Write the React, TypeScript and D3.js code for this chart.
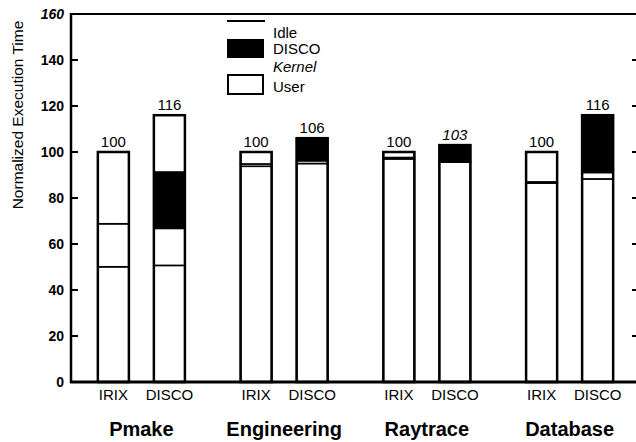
import React from 'react';
import * as d3 from 'd3';

// benchmark groups and the two systems run in each
const groups = ['Pmake', 'Engineering', 'Raytrace', 'Database'];
const systems = ['IRIX', 'DISCO'];

// per bar, in order Pmake IRIX, Pmake DISCO, Engineering IRIX, ...
const userTime = [50.1, 50.7, 93.8, 95.0, 97.0, 95.6, 86.5, 88.3];
const kernelTime = [18.7, 16.1, 1.0, 1.2, 0.6, 0.2, 0.5, 2.8];
const discoTime = [0, 24.5, 0, 9.8, 0, 7.2, 0, 24.9];
const idleTime = [31.2, 24.7, 5.2, 0, 2.4, 0, 13.0, 0];
const totalLabels = ['100', '116', '100', '106', '100', '103', '100', '116'];

const yTicks = [0, 20, 40, 60, 80, 100, 120, 140, 160];
const legendItems = ['Idle', 'DISCO', 'Kernel', 'User'];

const W = 636;
const H = 442;
const margin = { left: 71, top: 14, right: 0, bottom: 60 };
const font = '"Liberation Sans", Arial, Helvetica, sans-serif';

export default function App() {
  const keys = ['user', 'kernel', 'disco', 'idle'];
  const rows = userTime.map((u, i) => ({
    group: groups[Math.floor(i / 2)],
    system: systems[i % 2],
    user: u,
    kernel: kernelTime[i],
    disco: discoTime[i],
    idle: idleTime[i],
    label: totalLabels[i],
  }));

  const stacked = d3.stack<any>().keys(keys)(rows);

  const y = d3.scaleLinear().domain([0, 160]).range([H - margin.bottom, margin.top]);
  const x0 = d3.scaleBand().domain(groups).range([70, 641]);
  const x1 = d3
    .scaleBand()
    .domain(systems)
    .range([0, x0.bandwidth()])
    .paddingInner(0.446)
    .paddingOuter(0.497);

  const barX = (d: any) => (x0(d.group) as number) + (x1(d.system) as number);
  const bw = x1.bandwidth();
  const y0 = y(0);

  return (
    <svg
      width={W}
      height={H}
      style={{ position: 'absolute', left: 0, top: 0, background: '#fff' }}
      fontFamily={font}
    >
      {/* bar segments */}
      {stacked.map((layer) => (
        <g key={layer.key}>
          {layer.map((seg, i) => {
            const h = y(seg[0]) - y(seg[1]);
            if (h <= 0) return null;
            return (
              <rect
                key={i}
                x={barX(rows[i])}
                y={y(seg[1])}
                width={bw}
                height={h}
                fill={layer.key === 'disco' ? '#000' : '#fff'}
                stroke="#000"
                strokeWidth={1.6}
              />
            );
          })}
        </g>
      ))}
      {/* bar outlines and totals */}
      {rows.map((d, i) => {
        const top = stacked[3][i][1];
        return (
          <g key={i}>
            <rect
              x={barX(d)}
              y={y(top)}
              width={bw}
              height={y0 - y(top)}
              fill="none"
              stroke="#000"
              strokeWidth={2.5}
            />
            <text
              x={barX(d) + bw / 2}
              y={y(top) - 5}
              textAnchor="middle"
              fontSize={15}
              fontStyle={d.label === '103' ? 'italic' : 'normal'}
            >
              {d.label}
            </text>
            <text x={barX(d) + bw / 2} y={400} textAnchor="middle" fontSize={15}>
              {d.system}
            </text>
          </g>
        );
      })}

      {/* frame */}
      <line x1={71} x2={636} y1={y(160)} y2={y(160)} stroke="#000" strokeWidth={2} />
      <line x1={71} x2={71} y1={y(160) - 1} y2={y0 + 1} stroke="#000" strokeWidth={2.5} />
      <line x1={70} x2={636} y1={y0} y2={y0} stroke="#000" strokeWidth={3} />

      {/* y axis ticks */}
      {yTicks.map((t) => (
        <g key={t}>
          <line x1={71} x2={78} y1={y(t)} y2={y(t)} stroke="#000" strokeWidth={2} />
          <line x1={632} x2={636} y1={y(t)} y2={y(t)} stroke="#000" strokeWidth={2} />
          <text
            x={64}
            y={y(t)}
            dy="0.35em"
            textAnchor="end"
            fontSize={14}
            fontWeight="bold"
            fontStyle={t === 160 ? 'italic' : 'normal'}
          >
            {t}
          </text>
        </g>
      ))}
      <text
        transform={`translate(23,${115}) rotate(-90)`}
        textAnchor="middle"
        fontSize={15.5}
      >
        Normalized Execution Time
      </text>

      {/* group labels */}
      {groups.map((g) => (
        <text
          key={g}
          x={(x0(g) as number) + x0.bandwidth() / 2}
          y={436}
          textAnchor="middle"
          fontSize={20}
          fontWeight="bold"
        >
          {g}
        </text>
      ))}

      {/* legend */}
      <g>
        <line x1={227} x2={265} y1={21} y2={21} stroke="#000" strokeWidth={2} />
        <rect x={227} y={39} width={37} height={19} fill="#000" />
        <rect x={228} y={75} width={35} height={19} fill="#fff" stroke="#000" strokeWidth={2} />
        {legendItems.map((l, i) => (
          <text
            key={l}
            x={273}
            y={[33, 49, 67, 87][i]}
            dy="0.35em"
            fontSize={15}
            fontStyle={l === 'Kernel' ? 'italic' : 'normal'}
          >
            {l}
          </text>
        ))}
      </g>
    </svg>
  );
}
